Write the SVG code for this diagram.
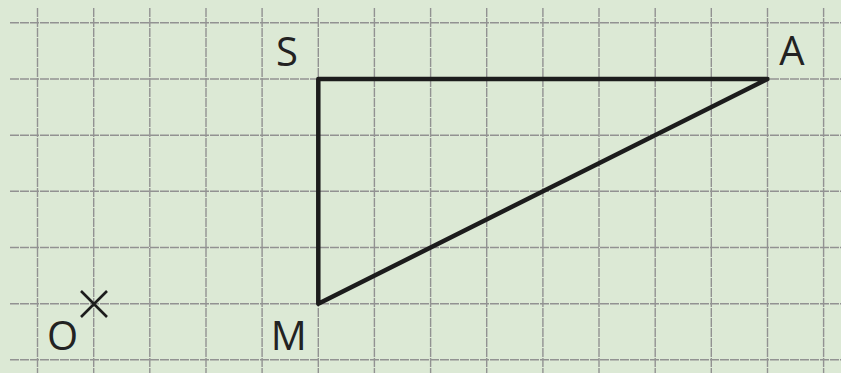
<svg xmlns="http://www.w3.org/2000/svg" width="841" height="373" viewBox="0 0 841 373">
<style>
.grid line{stroke:#929292;stroke-width:1.4;stroke-dasharray:9 1}
.lbl{font-family:"Open Sans","Liberation Sans",sans-serif;font-size:40px;fill:#222;text-anchor:middle}
.edge{stroke:#1c1c1c;stroke-width:4.5;fill:none;stroke-linecap:round;stroke-linejoin:round}
</style>
<rect width="841" height="373" fill="#dce9d5"/>
<g class="grid" id="grid">
<line x1="10" y1="22.7" x2="841" y2="22.7"/>
<line x1="10" y1="79" x2="841" y2="79"/>
<line x1="10" y1="135.2" x2="841" y2="135.2"/>
<line x1="10" y1="191.3" x2="841" y2="191.3"/>
<line x1="10" y1="247.5" x2="841" y2="247.5"/>
<line x1="10" y1="303.7" x2="841" y2="303.7"/>
<line x1="10" y1="359.8" x2="841" y2="359.8"/>
<line x1="37.5" y1="8" x2="37.5" y2="373"/>
<line x1="93.7" y1="8" x2="93.7" y2="373"/>
<line x1="149.8" y1="8" x2="149.8" y2="373"/>
<line x1="206" y1="8" x2="206" y2="373"/>
<line x1="262.1" y1="8" x2="262.1" y2="373"/>
<line x1="318.3" y1="8" x2="318.3" y2="373"/>
<line x1="374.4" y1="8" x2="374.4" y2="373"/>
<line x1="430.6" y1="8" x2="430.6" y2="373"/>
<line x1="486.7" y1="8" x2="486.7" y2="373"/>
<line x1="542.9" y1="8" x2="542.9" y2="373"/>
<line x1="599" y1="8" x2="599" y2="373"/>
<line x1="655.2" y1="8" x2="655.2" y2="373"/>
<line x1="711.3" y1="8" x2="711.3" y2="373"/>
<line x1="767.5" y1="8" x2="767.5" y2="373"/>
<line x1="823.6" y1="8" x2="823.6" y2="373"/>
</g>
<g id="connectors">
<path class="edge" d="M318.3 79 L767.5 79 L318.3 303.7 Z"/>
</g>
<g id="S"><text class="lbl" x="287" y="65.5">S</text></g>
<g id="A"><text class="lbl" x="792" y="64.5">A</text></g>
<g id="M"><text class="lbl" x="288.7" y="349.5">M</text></g>
<g id="O">
<text class="lbl" x="62.5" y="350">O</text>
<path d="M81 291 L107 317 M81 317 L107 291" stroke="#1c1c1c" stroke-width="2.6" fill="none"/>
</g>
</svg>
